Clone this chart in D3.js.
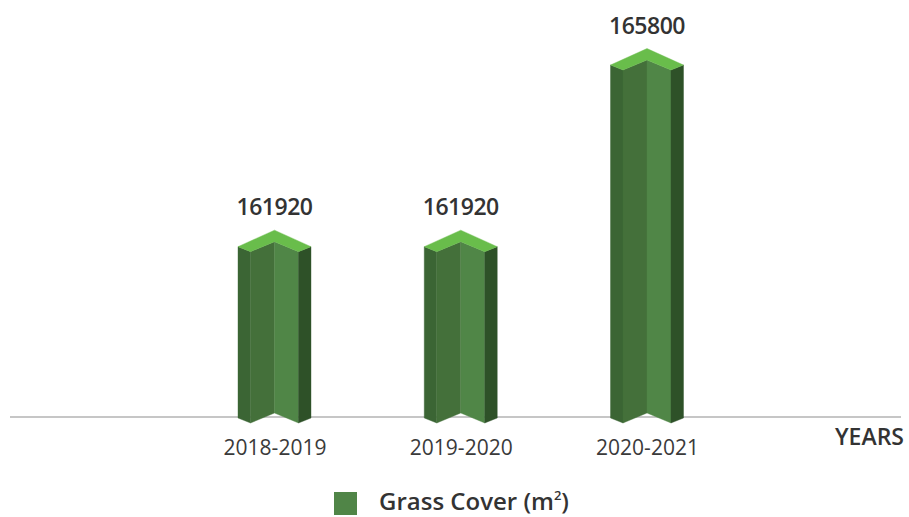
<!DOCTYPE html>
<html>
<head>
<meta charset="utf-8">
<script src="https://cdn.jsdelivr.net/npm/d3@7"></script>
<style>
  html, body { margin: 0; padding: 0; background: #ffffff; }
  svg { display: block; }
  text { font-family: "Open Sans", "Noto Sans", sans-serif; }
</style>
</head>
<body>
<svg id="chart" width="909" height="517"></svg>
<script>
// Grass cover by reporting year
const years = ["2018-2019", "2019-2020", "2020-2021"];
const grassCover = [161920, 161920, 165800];
const seriesName = "Grass Cover (m";
const axisTitle = "YEARS";

const width = 909, height = 517;
const svg = d3.select("#chart");

// scales
const x = d3.scalePoint().domain(years).range([274.5, 647]);
const y = d3.scaleLinear().domain([158260, 165800]).range([418, 65]);

// baseline
svg.append("line")
  .attr("x1", 10).attr("x2", 901)
  .attr("y1", 417).attr("y2", 417)
  .attr("stroke", "#c6c6c6").attr("stroke-width", 2);

// chevron prism geometry
const half = 36.5, inner = 24, back = 16.5, notch = 5;
const colors = {
  top: "#69bd4b",
  leftOuter: "#3b6534",
  leftInner: "#44703a",
  rightInner: "#508647",
  rightOuter: "#2e5128"
};

const data = years.map((yr, i) => ({ year: yr, value: grassCover[i] }));
const base = y.range()[0];

const bars = svg.append("g").selectAll("g").data(data).join("g");

function poly(pts) { return "M" + pts.map(p => p.join(",")).join("L") + "Z"; }

bars.each(function(d) {
  const g = d3.select(this);
  const cx = x(d.year), yt = y(d.value), yb = base;
  const faces = [
    { c: colors.leftOuter, p: [[cx - half, yt], [cx - inner, yt + notch], [cx - inner, yb + notch], [cx - half, yb]] },
    { c: colors.leftInner, p: [[cx - inner, yt + notch], [cx, yt - notch], [cx, yb - notch], [cx - inner, yb + notch]] },
    { c: colors.rightInner, p: [[cx, yt - notch], [cx + inner, yt + notch], [cx + inner, yb + notch], [cx, yb - notch]] },
    { c: colors.rightOuter, p: [[cx + inner, yt + notch], [cx + half, yt], [cx + half, yb], [cx + inner, yb + notch]] },
    { c: colors.top, p: [[cx - half, yt], [cx, yt - back], [cx + half, yt], [cx + inner, yt + notch], [cx, yt - notch], [cx - inner, yt + notch]] }
  ];
  g.selectAll("path").data(faces).join("path")
    .attr("d", f => poly(f.p))
    .attr("fill", f => f.c)
    .attr("stroke", f => f.c)
    .attr("stroke-width", 0.4);

  g.append("text")
    .attr("x", cx).attr("y", yt - 31.5)
    .attr("text-anchor", "middle")
    .attr("font-size", 23).attr("font-weight", 600)
    .attr("letter-spacing", -0.5)
    .attr("fill", "#333333")
    .text(d3.format("d")(d.value));
});

// category axis labels
const xAxis = d3.axisBottom(x).tickSize(0).tickPadding(0);
const axisG = svg.append("g").attr("transform", "translate(0,438)").call(xAxis);
axisG.select(".domain").remove();
axisG.selectAll("text")
  .attr("dy", 0).attr("y", 17)
  .attr("font-family", "'Open Sans', sans-serif")
  .attr("font-size", 21)
  .attr("fill", "#3a3a3a");

svg.append("text")
  .attr("x", 904).attr("y", 445)
  .attr("text-anchor", "end")
  .attr("font-size", 23).attr("font-weight", 600)
  .attr("fill", "#333333")
  .text(axisTitle);

// legend
const legend = svg.append("g");
legend.append("rect")
  .attr("x", 334).attr("y", 492).attr("width", 23).attr("height", 23)
  .attr("fill", "#508547");
const lt = legend.append("text")
  .attr("x", 379).attr("y", 510)
  .attr("font-size", 24).attr("font-weight", 600)
  .attr("fill", "#333333");
lt.append("tspan").text(seriesName);
lt.append("tspan").attr("dy", -10).attr("font-size", 13).text("2");
lt.append("tspan").attr("dy", 10).text(")");
</script>
</body>
</html>
